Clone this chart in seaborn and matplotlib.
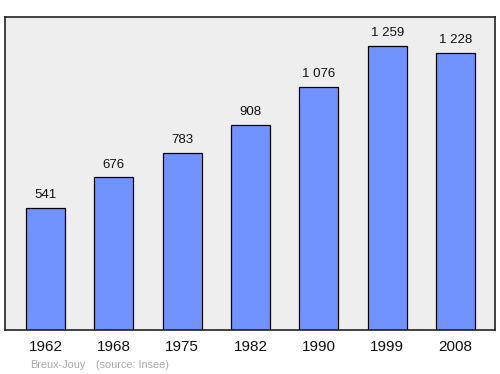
import matplotlib
matplotlib.use("Agg")
import matplotlib.pyplot as plt
import seaborn as sns
import pandas as pd

years = ["1962", "1968", "1975", "1982", "1990", "1999", "2008"]
population = [541, 676, 783, 908, 1076, 1259, 1228]
footer_name = "Breux-Jouy"
footer_source = "(source: Insee)"

sns.set_theme(style="white")
plt.rcParams['font.family'] = ['Liberation Sans', 'DejaVu Sans']

df = pd.DataFrame({"year": years, "pop": population})

fig = plt.figure(figsize=(5.0, 3.74), dpi=100)
ax = fig.add_axes([0.01, 1 - 330/374, 0.98, (330 - 17)/374])
ax.set_facecolor("#eeeeee")

sns.barplot(data=df, x="year", y="pop", order=years, color="#7093ff",
            saturation=1, width=0.57, edgecolor="black", linewidth=0.9, ax=ax)

for i, v in enumerate(population):
    label = f"{v:,}".replace(",", " ")
    ax.annotate(label, (i, v), xytext=(0, 5), textcoords="offset points",
                ha="center", va="bottom", fontsize=9.5, color="#111111")

ax.set_xlim(-0.593, 6.578)
ax.set_ylim(0, 1387)
ax.set_yticks([])
ax.set_xlabel("")
ax.set_ylabel("")
ax.tick_params(axis="x", length=0, labelsize=11, pad=7.5, colors="#111111")
for s in ax.spines.values():
    s.set_visible(True)
    s.set_color("#222222")
    s.set_linewidth(1.2)

fig.text(30/500, 1 - 365/374, footer_name, fontsize=7.8, color="#aaaaaa", va="center", ha="left")
fig.text(96/500, 1 - 365/374, footer_source, fontsize=7.8, color="#aaaaaa", va="center", ha="left")

fig.savefig("out.png", dpi=100, facecolor="white")
